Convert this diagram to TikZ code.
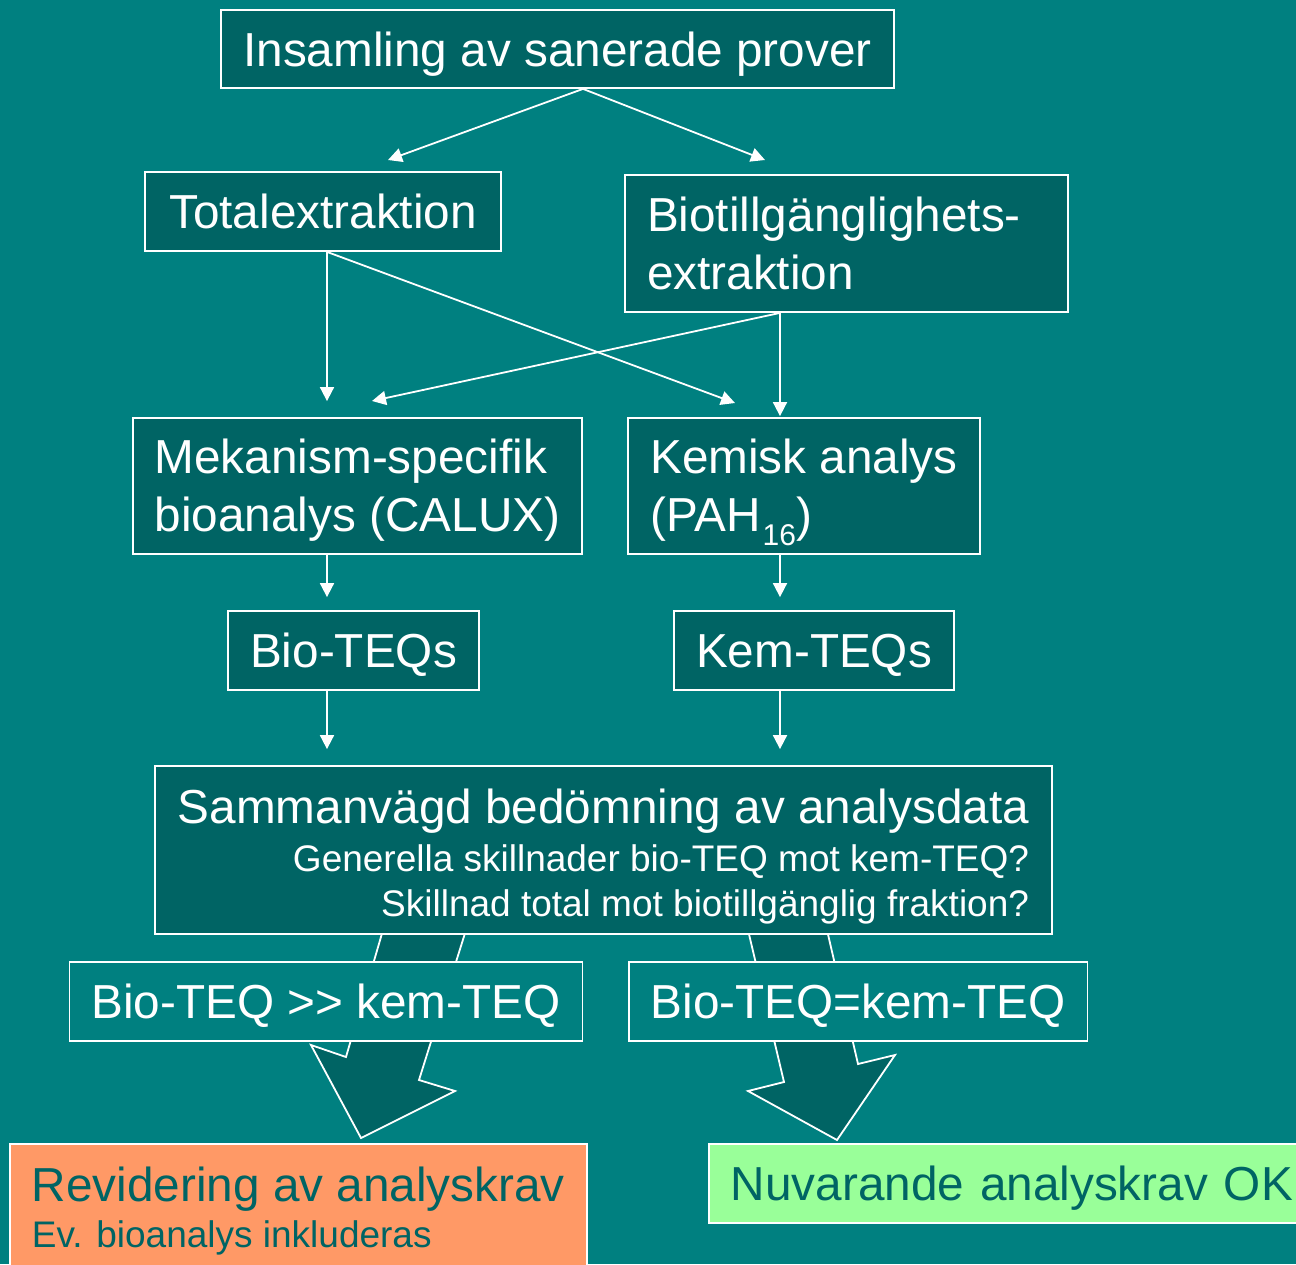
\documentclass[tikz,border=0pt]{standalone}
\usepackage{fontspec}
\setmainfont{Liberation Sans}
\usetikzlibrary{arrows.meta,calc}

\definecolor{bgteal}{HTML}{008080}
\definecolor{boxteal}{HTML}{006464}
\definecolor{revorange}{HTML}{FF9966}
\definecolor{okgreen}{HTML}{99FF99}

\pgfdeclarelayer{background}
\pgfsetlayers{background,main}

\newcommand{\bigfont}{\fontsize{47.7}{57.5}\selectfont}
\newcommand{\smallfont}{\fontsize{37}{45}\selectfont}

\begin{document}
\begin{tikzpicture}[x=1pt,y=-1pt,
  box/.style={draw=white, line width=1.8pt, fill=boxteal, text=white,
    font=\bigfont, inner xsep=22pt, inner ysep=0pt},
  oneline/.style={text height=34pt, text depth=0pt},
  flow/.style={draw=white, line width=1.8pt, -{Triangle[length=14pt,width=14pt]}},
  blockarrow/.style={fill=boxteal, draw=white, line width=1.8pt, line join=miter}]
\useasboundingbox (0,0) rectangle (1296,1264);

% Boxes
\node[box, oneline, minimum width=673, minimum height=78] (collect) at (557.5,49) {Insamling av sanerade prover};
\node[box, oneline, minimum width=356, minimum height=79] (totex) at (323,211.5) {Totalextraktion};
\node[box, align=left, text width=399, minimum height=137] (bioex) at (846.5,243.5) {Biotillgänglighets-\\extraktion};
\node[box, align=left, minimum width=449, minimum height=136] (calux) at (357.5,486) {\rule{0pt}{43pt}Mekanism-specifik\\bioanalys (CALUX)};
\node[box, align=left, minimum width=350, minimum height=136] (chem) at (804,486) {\rule{0pt}{47pt}Kemisk analys\\(PAH\kern2pt\raisebox{-14pt}{\fontsize{30}{30}\selectfont 16})};
\node[box, oneline, minimum width=249, minimum height=79] (bioteq) at (353.5,650.5) {Bio-TEQs};
\node[box, oneline, minimum width=278, minimum height=79] (kemteq) at (814,650.5) {Kem-TEQs};
\node[box, align=right, font=\smallfont, minimum width=897, minimum height=168] (assess) at (603.5,850)
  {{\bigfont\rule{0pt}{48pt}Sammanvägd bedömning av analysdata}\\[3pt]
   Generella skillnader bio-TEQ mot kem-TEQ?\\[0pt]
   Skillnad total mot biotillgänglig fraktion?};
\node[box, oneline, fill=bgteal, minimum width=512, minimum height=79] (higher) at (326,1001.5) {Bio-TEQ >{}> kem-TEQ};
\node[box, oneline, fill=bgteal, minimum width=458, minimum height=79] (equal) at (858,1001.5) {Bio-TEQ=kem-TEQ};
\node[box, fill=revorange, text=boxteal, align=left, minimum width=577, minimum height=135, anchor=north west] (revise) at (9,1143)
  {Revidering av analyskrav\\[-11.5pt] {\smallfont Ev. bioanalys inkluderas}};
\node[box, oneline, fill=okgreen, text=boxteal, align=left, text width=576, minimum height=79, anchor=north west] (okay) at (708,1143) {Nuvarande analyskrav OK};

% Arrow ends
\coordinate (fork) at ($(collect.south)+(25.5,0)$);
\coordinate (colL) at (327,0);
\coordinate (colR) at (780,0);
\coordinate (toTot) at (388,160);
\coordinate (toBio) at (765,160);
\coordinate (toChem) at (735,403);
\coordinate (toCalux) at (372,401);

% Connectors
\draw[flow] (fork) -- (toTot);
\draw[flow] (fork) -- (toBio);
\draw[flow] (totex.south -| colL) -- (toChem);
\draw[flow] (bioex.south -| colR) -- (toCalux);
\foreach \src/\dst/\col/\gap in {totex/calux/colL/16, calux/bioteq/colL/13, bioteq/assess/colL/16,
    bioex/chem/colR/1, chem/kemteq/colR/13, kemteq/assess/colR/16}
  \draw[flow, shorten >=\gap] (\src.south -| \col) -- (\dst.north -| \col);

% Block arrows behind the result boxes
\begin{pgfonlayer}{background}
\fill[bgteal] (0,0) rectangle (1296,1264);
\draw[blockarrow] (383,930) -- (346,1057) -- (311,1045) -- (361,1138) -- (455,1091) -- (419,1080) -- (466,930) -- cycle;
\draw[blockarrow] (748,930) -- (784,1082) -- (748,1091) -- (837,1140) -- (895,1055) -- (858,1064) -- (827,930) -- cycle;
\end{pgfonlayer}
\end{tikzpicture}
\end{document}
